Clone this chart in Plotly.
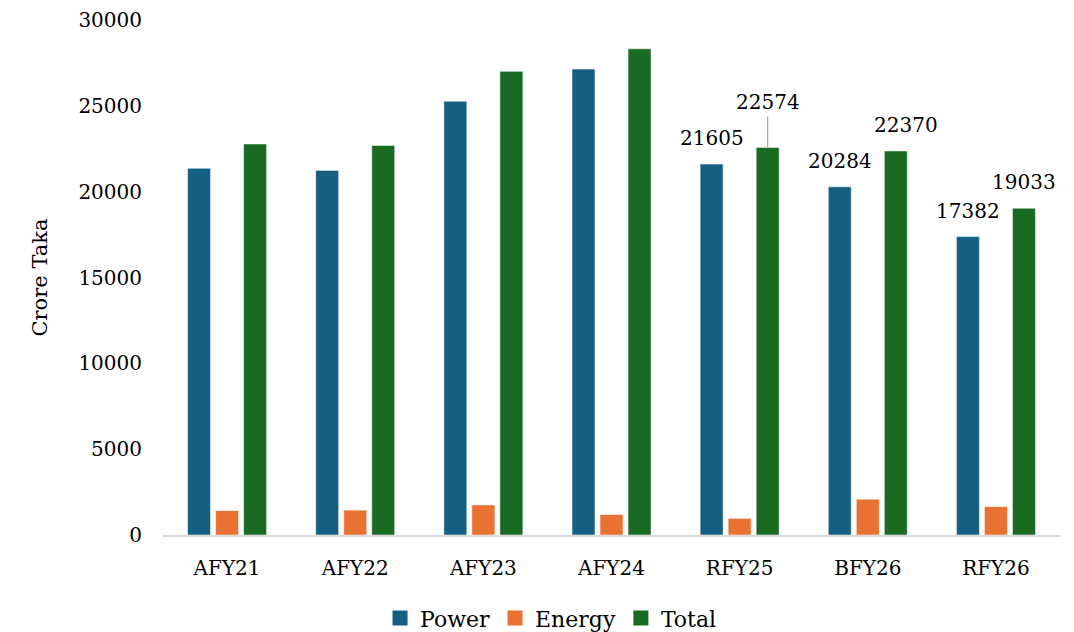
import plotly.graph_objects as go

# Budget allocation by fiscal year (Crore Taka)
categories = ["AFY21", "AFY22", "AFY23", "AFY24", "RFY25", "BFY26", "RFY26"]
power = [21360, 21240, 25270, 27140, 21605, 20284, 17382]
energy = [1420, 1450, 1750, 1190, 969, 2086, 1651]
total = [22780, 22690, 27010, 28320, 22574, 22370, 19033]

# Only the most recent years carry value labels
labelled = ["RFY25", "BFY26", "RFY26"]

FONT = "DejaVu Serif"
BLUE, ORANGE, GREEN = "#156082", "#E97132", "#196B24"
series = [("Power", power, BLUE), ("Energy", energy, ORANGE), ("Total", total, GREEN)]

fig = go.Figure()
for name, vals, col in series:
    fig.add_trace(go.Bar(
        name=name, x=categories, y=vals, showlegend=False,
        marker=dict(color=col, line=dict(color="rgba(255,255,255,0.5)", width=1)),
    ))
# square legend keys
for name, vals, col in series:
    fig.add_trace(go.Scatter(
        name=name, x=[None], y=[None], mode="markers",
        marker=dict(symbol="square", size=15, color=col),
    ))

annotations = []
for cat, p, t in zip(categories, power, total):
    if cat not in labelled:
        continue
    annotations.append(dict(
        x=cat, y=p, xref="x", yref="y", text=str(p), showarrow=False,
        xshift=-28, yshift=26, yanchor="middle",
        font=dict(family=FONT, size=20, color="#000000"),
    ))
    if cat == "RFY25":
        # raised label with a leader line down to the bar
        annotations.append(dict(
            x=cat, y=t, xref="x", yref="y", text=str(t), showarrow=True,
            arrowhead=0, arrowwidth=1.2, arrowcolor="#A6A6A6",
            ax=0, ay=-31, xshift=28, standoff=0,
            yanchor="bottom",
            font=dict(family=FONT, size=20, color="#000000"),
        ))
    else:
        annotations.append(dict(
            x=cat, y=t, xref="x", yref="y", text=str(t), showarrow=False,
            xshift=28 + (10 if cat == "BFY26" else 0), yshift=26, yanchor="middle",
            font=dict(family=FONT, size=20, color="#000000"),
        ))

fig.update_layout(
    width=1074, height=632,
    margin=dict(l=163, r=14, t=20, b=97, autoexpand=False),
    paper_bgcolor="white", plot_bgcolor="white",
    barmode="group", bargap=0.344, bargroupgap=0.18,
    font=dict(family=FONT, size=20, color="#000000"),
    showlegend=True,
    legend=dict(
        orientation="h", xref="paper", yref="paper",
        x=0.4326, xanchor="center", y=-0.121, yanchor="top",
        font=dict(family=FONT, size=22), traceorder="normal",
        itemwidth=30,
    ),
    annotations=annotations,
)
fig.update_yaxes(
    range=[0, 30000], dtick=5000, tickformat="d", showgrid=False, zeroline=False,
    showline=False, ticks="", ticklabelstandoff=20,
    title=dict(text="Crore Taka", standoff=25, font=dict(family=FONT, size=21)),
)
fig.update_xaxes(
    showline=True, linecolor="#D9D9D9", linewidth=2, ticks="",
    ticklabelstandoff=14, showgrid=False,
)

fig.write_html("out.html")
